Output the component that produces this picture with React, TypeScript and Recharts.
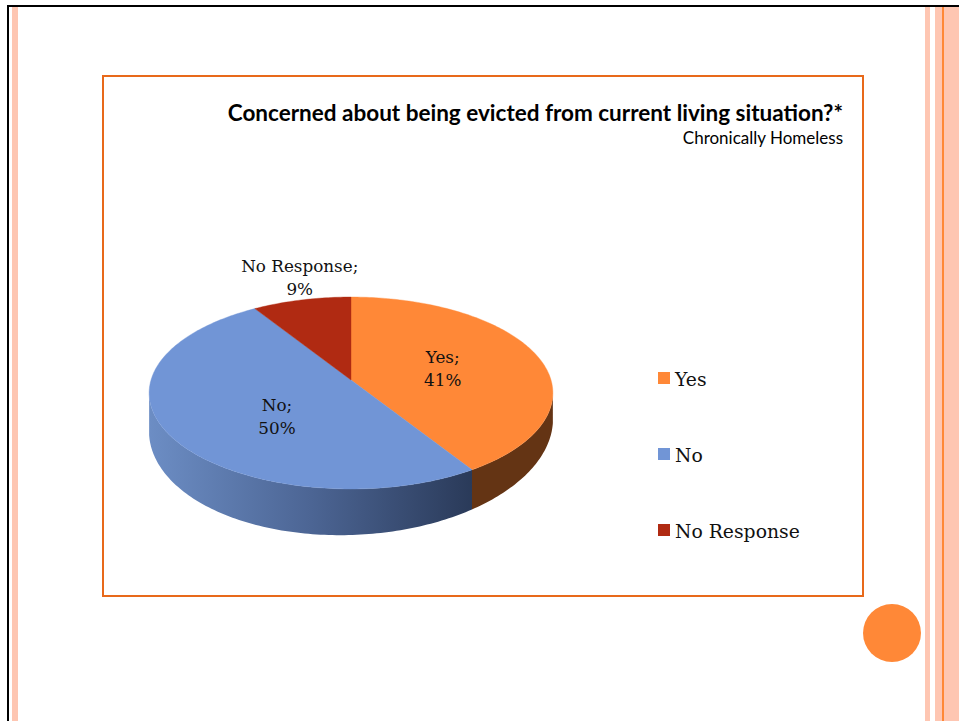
import React from "react";
import { Legend, Pie, PieChart } from "recharts";

const categories = ["Yes", "No", "No Response"];
const shares = [41, 50, 9];
const sliceColors = ["#FF8837", "#7195D6", "#B02A12"];
const wallColors = ["#643414", "url(#blueWall)", "#6E1A0B"];

const rows = categories.map((name, i) => ({ name, value: shares[i], fill: sliceColors[i] }));
const wallRows = categories.map((name, i) => ({ name, value: shares[i], fill: wallColors[i] }));

const serif = "'DejaVu Serif', serif";
const sans = "Lato, sans-serif";

// the pie leans back, so the near half of the disc looks bigger than the far half
const TILT = 0.471;
const LEAN = 0.1354;
const WALL_FROM = 97.8;
const WALL_TO = 262.2;

const rad = (d: number) => (d * Math.PI) / 180;

const project = (theta: number, r: number) => {
    const s = Math.sin(rad(theta));
    const c = Math.cos(rad(theta));
    const d = 1 + LEAN * c;
    return { x: (r * s) / d, y: (-r * TILT * c) / d };
};

const TopSlice = (props: any) => {
    const { cx, cy, outerRadius, startAngle, endAngle, fill } = props;
    const from = 90 - startAngle;
    const to = 90 - endAngle;
    let d = `M${cx},${cy}`;
    for (let t = from; t < to; t += 1) {
        const p = project(t, outerRadius);
        d += `L${cx + p.x},${cy + p.y}`;
    }
    const last = project(to, outerRadius);
    d += `L${cx + last.x},${cy + last.y}Z`;
    return <path d={d} fill={fill} stroke={fill} strokeWidth={0.4} />;
};

const WallSlice = (props: any) => {
    const { cx, cy, outerRadius, startAngle, endAngle, fill } = props;
    const from = Math.max(90 - startAngle, WALL_FROM);
    const to = Math.min(90 - endAngle, WALL_TO);
    if (to <= from) return null;
    const top: string[] = [];
    const bottom: string[] = [];
    for (let t = from; t <= to + 0.001; t += Math.min(1, Math.max(to - t, 0.01))) {
        const p = project(t, outerRadius);
        const k = Math.sqrt(Math.max(0, 1 - (p.x / (outerRadius * 1.01)) ** 2));
        top.push(`${cx + p.x},${cy + p.y}`);
        bottom.unshift(`${cx + p.x},${cy + 45 + outerRadius * 0.55 * k - 0.03 * p.x}`);
    }
    return <path d={`M${top.join("L")}L${bottom.join("L")}Z`} fill={fill} />;
};

const labelReach = [0.49, 0.5, 1.2];
const labelNudge = [
    [1, 0],
    [17, 9],
    [8, -7],
];

const SliceLabel = (props: any) => {
    const { cx, cy, outerRadius, midAngle, name, value, index } = props;
    const p = project(90 - midAngle, outerRadius * labelReach[index]);
    const x = cx + p.x + labelNudge[index][0];
    const y = cy + p.y + labelNudge[index][1];
    return (
        <text x={x} y={y} textAnchor="middle" fontFamily={serif} fontSize={16.8} fill="#111">
            <tspan x={x} dy={-5}>{name};</tspan>
            <tspan x={x} dy={23}>{value}%</tspan>
        </text>
    );
};

// both pies feed the legend, only the top slices belong in it
const LegendList = ({ payload }: any) => {
    const items = categories.map((name, i) => ({
        name,
        color: sliceColors[i],
        shown: (payload ?? []).some((p: any) => p.value === name),
    }));
    return (
        <div>
            {items.filter((item) => item.shown).map((item) => (
                <div key={item.name} style={{ height: 76, display: "flex", alignItems: "center" }}>
                    <span style={{ width: 12, height: 12, background: item.color, marginRight: 5, marginTop: -2 }} />
                    <span style={{ fontFamily: serif, fontSize: 18.8, color: "#111", whiteSpace: "nowrap" }}>{item.name}</span>
                </div>
            ))}
        </div>
    );
};

const band = (left: number, width: number, color: string, top = 7): React.CSSProperties => ({
    position: "absolute",
    left,
    top,
    width,
    height: 721 - top,
    background: color,
});

export default function App() {
    return (
        <div style={{ position: "absolute", left: 0, top: 0, width: 959, height: 721, overflow: "hidden", background: "#fff" }}>
            {/* slide furniture */}
            <div style={band(7, 2, "#000", 5)} />
            <div style={{ position: "absolute", left: 7, top: 5, width: 952, height: 2, background: "#000" }} />
            <div style={band(12, 6, "#FEC6B2")} />
            <div style={band(925, 5, "#FEC6B2")} />
            <div style={band(935, 24, "#FEC6B2")} />
            <div style={band(942, 2, "#FF8837")} />
            <div style={{ position: "absolute", left: 102, top: 75, width: 758, height: 518, border: "2px solid #E8691A" }} />
            <div style={{ position: "absolute", left: 863, top: 604, width: 58, height: 58, borderRadius: "50%", background: "#FF8837" }} />

            <div style={{ position: "absolute", left: 0, top: 0 }}>
                <PieChart width={959} height={721} margin={{ top: 0, right: 0, bottom: 0, left: 0 }}>
                    <defs>
                        <linearGradient id="blueWall" gradientUnits="userSpaceOnUse" x1="150" y1="0" x2="472" y2="0">
                            <stop offset="0" stopColor="#6C8DC4" />
                            <stop offset="0.5" stopColor="#4C6594" />
                            <stop offset="1" stopColor="#2A3A59" />
                        </linearGradient>
                    </defs>
                    <text x={843} y={121} textAnchor="end" fontFamily={sans} fontWeight={700} fontSize={22.5} fill="#000">
                        Concerned about being evicted from current living situation?*
                    </text>
                    <text x={843} y={144} textAnchor="end" fontFamily={sans} fontSize={17} fill="#000">
                        Chronically Homeless
                    </text>
                    <Pie
                        data={wallRows}
                        dataKey="value"
                        nameKey="name"
                        cx={351}
                        cy={380}
                        outerRadius={200}
                        startAngle={90}
                        endAngle={-270}
                        stroke="none"
                        legendType="none"
                        shape={WallSlice}
                        isAnimationActive={false}
                    />
                    <Pie
                        data={rows}
                        dataKey="value"
                        nameKey="name"
                        cx={351}
                        cy={380}
                        outerRadius={200}
                        startAngle={90}
                        endAngle={-270}
                        stroke="none"
                        shape={TopSlice}
                        label={SliceLabel}
                        labelLine={false}
                        isAnimationActive={false}
                    />
                    <Legend
                        layout="vertical"
                        content={LegendList}
                        wrapperStyle={{ left: 658, top: 341, width: 200, bottom: "auto", right: "auto" }}
                    />
                </PieChart>
            </div>
        </div>
    );
}
